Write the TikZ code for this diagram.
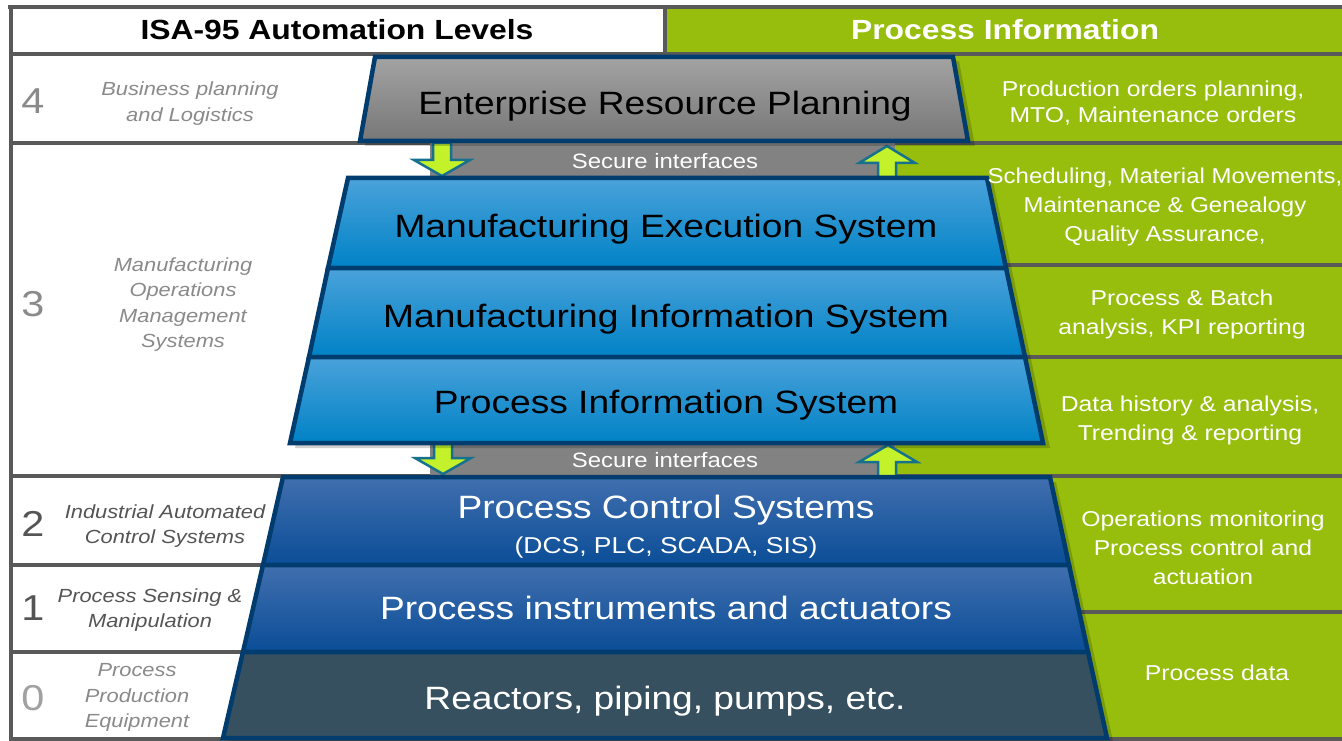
\documentclass[tikz,border=0pt]{standalone}
\usepackage{fontspec}
\setmainfont{Liberation Sans}
\definecolor{framec}{HTML}{595959}
\definecolor{grn}{HTML}{97BE0D}
\definecolor{dblue}{HTML}{003C6E}
\definecolor{erpT}{HTML}{A3A3A3}
\definecolor{erpB}{HTML}{777777}
\definecolor{lbT}{HTML}{4AA2DA}
\definecolor{lbB}{HTML}{0082C6}
\definecolor{dbT}{HTML}{416FAE}
\definecolor{dbB}{HTML}{0A4D97}
\definecolor{slate}{HTML}{36505F}
\definecolor{bandc}{HTML}{828282}
\definecolor{lime}{HTML}{C3F12A}
\definecolor{tealc}{HTML}{17718E}
\definecolor{labl}{HTML}{8A8A8A}
\definecolor{labd}{HTML}{555555}
\tikzset{
  sep/.style={draw=framec, line width=3.5pt},
  tier/.style={draw=dblue, line width=4.5pt, line join=miter},
  shadowc/.style={fill=black, opacity=0.18},
  arr/.style={fill=lime, draw=tealc, line width=2.5pt, line join=miter},
  hdr/.style={font=\fontsize{27.7}{32}\selectfont\bfseries, xscale=1.15, inner sep=0},
  big/.style={font=\fontsize{32.3}{38}\selectfont, xscale=1.15, inner sep=0, anchor=base},
  sec/.style={font=\fontsize{20.8}{24}\selectfont, text=white, xscale=1.15, inner sep=0, anchor=base},
  num/.style={font=\fontsize{36}{40}\selectfont, xscale=1.15, inner sep=0, anchor=base},
  lbl/.style={font=\fontsize{19}{25.5}\selectfont\itshape, align=center, xscale=1.15, inner sep=0},
  rtxt/.style={font=\fontsize{21.5}{29}\selectfont, text=white, align=center, xscale=1.15, inner sep=0},
}
\begin{document}
\begin{tikzpicture}[x=1pt,y=-1pt]
\useasboundingbox (0,0) rectangle (1342,741);
% backgrounds
\fill[white] (0,0) rectangle (1342,741);
\fill[grn] (665,7) rectangle (1342,741);
% frame lines
\draw[sep] (8,7) -- (1342,7);
\draw[sep] (11,5) -- (11,741);
\draw[sep] (665,7) -- (665,54);
\draw[sep] (10,54) -- (1342,54);
\draw[sep] (10,143) -- (1342,143);
\draw[sep] (10,476) -- (1342,476);
\draw[sep] (10,565) -- (665,565);
\draw[sep] (10,652) -- (665,652);
\draw[sep] (665,265) -- (1342,265);
\draw[sep] (665,357) -- (1342,357);
\draw[sep] (665,612) -- (1342,612);
\draw[sep] (10,739) -- (1342,739);
% secure interface bands
\fill[bandc] (430,143) rectangle (895,178);
\fill[bandc] (430,443) rectangle (895,477);
% arrows upper band
\draw[arr] (433,143) -- (451,143) -- (451,160) -- (470,160) -- (442,176) -- (414,160) -- (433,160) -- cycle;
\draw[arr] (878,178) -- (896,178) -- (896,163) -- (915,163) -- (887,146) -- (859,163) -- (878,163) -- cycle;
% arrows lower band
\draw[arr] (434,443) -- (452,443) -- (452,458) -- (471,458) -- (443,474) -- (415,458) -- (434,458) -- cycle;
\draw[arr] (878,477) -- (896,477) -- (896,462) -- (917,462) -- (888,445) -- (859,462) -- (878,462) -- cycle;
% shadows
\fill[shadowc] (380,61) -- (959,61) -- (975,146) -- (365,146) -- cycle;
\fill[shadowc] (353,182) -- (993,182) -- (1050,448) -- (295,448) -- cycle;
\fill[shadowc] (288,482) -- (1056,482) -- (1113,741) -- (228,741) -- cycle;
% ERP tier
\draw[tier, top color=erpT, bottom color=erpB] (375,57) -- (953,57) -- (968,141) -- (360,141) -- cycle;
% MOM tiers
\draw[tier, top color=lbT, bottom color=lbB] (348,178) -- (987,178) -- (1006,268) -- (328,268) -- cycle;
\draw[tier, top color=lbT, bottom color=lbB] (328,268) -- (1006,268) -- (1025,357) -- (309,357) -- cycle;
\draw[tier, top color=lbT, bottom color=lbB] (309,357) -- (1025,357) -- (1043,443) -- (290,443) -- cycle;
% control tiers
\draw[tier, top color=dbT, bottom color=dbB] (283,477) -- (1050,477) -- (1069,565) -- (263,565) -- cycle;
\draw[tier, top color=dbT, bottom color=dbB] (263,565) -- (1069,565) -- (1088,652) -- (243,652) -- cycle;
\draw[tier, fill=slate] (243,652) -- (1088,652) -- (1107,738) -- (223,738) -- cycle;
% headers
\node[hdr, text=black] (h1) at (337,30) {ISA-95 Automation Levels};
\node[hdr, text=white] (h2) at (1005,30) {Process Information};
% tier texts
\node[big, text=black] (erp) at (665,115) {Enterprise Resource Planning};
\node[sec] (s1) at (665,168.5) {Secure interfaces};
\node[big, text=black] (mes) at (666,237.5) {Manufacturing Execution System};
\node[big, text=black] (mis) at (666,327.5) {Manufacturing Information System};
\node[big, text=black] (pis) at (666,413.5) {Process Information System};
\node[sec] (s2) at (665,467.5) {Secure interfaces};
\node[big, text=white] (pcs) at (666,518.5) {Process Control Systems};
\node[big, text=white, font=\fontsize{23}{27}\selectfont] (dcs) at (666,553) {(DCS, PLC, SCADA, SIS)};
\node[big, text=white] (pia) at (666,619.5) {Process instruments and actuators};
\node[big, text=white] (rpp) at (665,709.5) {Reactors, piping, pumps, etc.};
% level numbers
\node[num, text=labl] (n4) at (33,114) {4};
\node[num, text=labl] (n3) at (33,316) {3};
\node[num, text=labd] (n2) at (33,536) {2};
\node[num, text=labd] (n1) at (33,620) {1};
\node[num, text=labl!80] (n0) at (33,710) {0};
% level labels
\node[lbl, text=labl] (l4) at (190,103.5) {Business planning\\and Logistics};
\node[lbl, text=labl] (l3) at (183,304.5) {Manufacturing\\Operations\\Management\\Systems};
\node[lbl, text=labd] (l2) at (165,526) {Industrial Automated\\Control Systems};
\node[lbl, text=labd] (l1) at (150,610) {Process Sensing \&\\Manipulation};
\node[lbl, text=labl] (l0) at (137,697.5) {Process\\Production\\Equipment};
% process information texts
\node[rtxt, font=\fontsize{21.5}{26}\selectfont] (r4) at (1153,103) {Production orders planning,\\MTO, Maintenance orders};
\node[rtxt, xscale=0.97] (r3a) at (1165,207) {Scheduling, Material Movements,\\Maintenance \& Genealogy\\Quality Assurance,};
\node[rtxt] (r3b) at (1182,314.5) {Process \& Batch\\analysis, KPI reporting};
\node[rtxt] (r3c) at (1190,420.5) {Data history \& analysis,\\Trending \& reporting};
\node[rtxt] (r2) at (1203,547.5) {Operations monitoring\\Process control and\\actuation};
\node[rtxt] (r0) at (1217,673) {Process data};
\end{tikzpicture}
\end{document}
